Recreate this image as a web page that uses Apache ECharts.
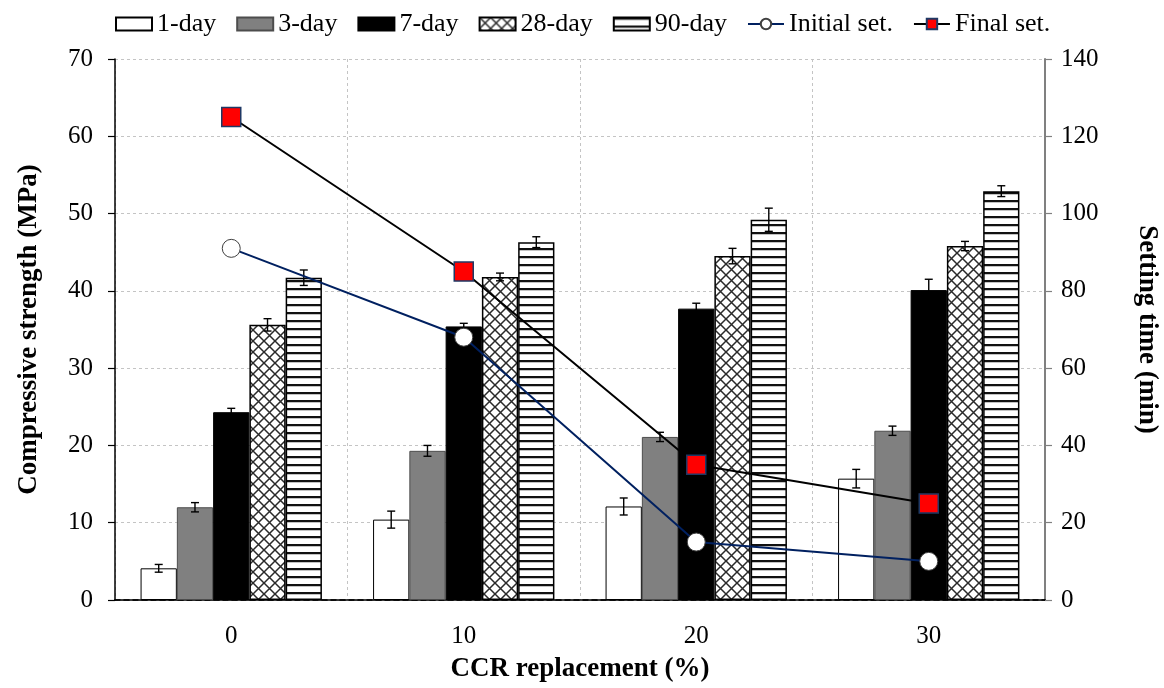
<!DOCTYPE html>
<html>
<head>
<meta charset="utf-8">
<script src="https://cdn.jsdelivr.net/npm/echarts@6/dist/echarts.min.js"></script>
<style>
html,body{margin:0;padding:0;background:#fff;}
#chart{width:1164px;height:688px;}
</style>
</head>
<body>
<div id="chart"></div>
<script>
// ---- data ----
const categories = ['0', '10', '20', '30'];
const seriesNames = ['1-day', '3-day', '7-day', '28-day', '90-day'];
const day1 = [4.1, 10.4, 12.1, 15.7];
const day3 = [12.0, 19.3, 21.1, 21.9];
const day7 = [24.3, 35.4, 37.7, 40.1];
const day28 = [35.6, 41.8, 44.5, 45.8];
const day90 = [41.7, 46.3, 49.2, 52.9];
const err1 = [0.5, 1.1, 1.1, 1.2];
const err3 = [0.6, 0.7, 0.6, 0.6];
const err7 = [0.5, 0.4, 0.7, 1.4];
const err28 = [0.8, 0.5, 1.0, 0.6];
const err90 = [1.0, 0.7, 1.5, 0.7];
const initialSet = [91, 68, 15, 10];
const finalSet = [125, 85, 35, 25];
const leftTicks = {min: 0, max: 70, interval: 10};
const rightTicks = {min: 0, max: 140, interval: 20};

// ---- patterns ----
function crossPattern() {
  const s = 11;
  const c = document.createElement('canvas');
  c.width = s; c.height = s;
  const g = c.getContext('2d');
  g.fillStyle = '#fff'; g.fillRect(0, 0, s, s);
  g.strokeStyle = '#2a2a2a'; g.lineWidth = 1.5;
  g.beginPath();
  g.moveTo(0, 0); g.lineTo(s, s);
  g.moveTo(0, s); g.lineTo(s, 0);
  g.stroke();
  return c;
}
function hLinePattern() {
  const c = document.createElement('canvas');
  c.width = 8; c.height = 8;
  const g = c.getContext('2d');
  g.fillStyle = '#fff'; g.fillRect(0, 0, 8, 8);
  g.fillStyle = '#111'; g.fillRect(0, 0, 8, 2);
  g.fillStyle = '#999'; g.fillRect(0, 2, 8, 0.6);
  return c;
}

const FONT = '"Liberation Serif", "Times New Roman", serif';
const values = [day1, day3, day7, day28, day90];
const errs = [err1, err3, err7, err28, err90];
const CAT_GAP = 0.22;

const barStyles = [
  {color: '#ffffff', borderColor: '#000', borderWidth: 1},
  {color: '#808080', borderColor: '#4d4d4d', borderWidth: 1},
  {color: '#000000', borderColor: '#000', borderWidth: 1},
  {color: {image: crossPattern(), repeat: 'repeat'}, borderColor: '#000', borderWidth: 1.5},
  {color: {image: hLinePattern(), repeat: 'repeat'}, borderColor: '#000', borderWidth: 1.5}
];

const barSeries = seriesNames.map((n, i) => ({
  name: n,
  type: 'bar',
  data: values[i],
  barGap: '0%',
  barCategoryGap: (CAT_GAP * 100) + '%',
  itemStyle: barStyles[i],
  z: 2
}));

const errData = [];
values.forEach((arr, i) => arr.forEach((v, j) => errData.push([j, v, errs[i][j], i])));

const errSeries = {
  type: 'custom',
  name: 'err',
  data: errData,
  encode: {x: 0, y: 1},
  z: 3,
  silent: true,
  renderItem: function (params, api) {
    const idx = api.value(0), v = api.value(1), e = api.value(2), si = api.value(3);
    const band = api.size([1, 0])[0];
    const bw = band * (1 - CAT_GAP) / 5;
    const cx = api.coord([idx, v])[0] + (si - 2) * bw;
    const yT = api.coord([idx, v + e])[1];
    const yB = api.coord([idx, v - e])[1];
    const cap = 4;
    const st = {stroke: '#000', lineWidth: 1.4};
    return {
      type: 'group',
      children: [
        {type: 'line', shape: {x1: cx, y1: yT, x2: cx, y2: yB}, style: st},
        {type: 'line', shape: {x1: cx - cap, y1: yT, x2: cx + cap, y2: yT}, style: st},
        {type: 'line', shape: {x1: cx - cap, y1: yB, x2: cx + cap, y2: yB}, style: st}
      ]
    };
  }
};

const lineSeries = [
  {
    name: 'Initial set.', type: 'line', yAxisIndex: 1, data: initialSet,
    symbol: 'circle', symbolSize: 18,
    lineStyle: {color: '#002060', width: 2},
    itemStyle: {color: '#ffffff', borderColor: '#404040', borderWidth: 1},
    z: 5
  },
  {
    name: 'Final set.', type: 'line', yAxisIndex: 1, data: finalSet,
    symbol: 'rect', symbolSize: 19,
    lineStyle: {color: '#000000', width: 2},
    itemStyle: {color: '#ff0000', borderColor: '#1f3864', borderWidth: 1.5},
    z: 5
  }
];

const legendData = seriesNames.map(n => ({name: n, icon: 'rect'}))
  .concat([{name: 'Initial set.'}, {name: 'Final set.'}]);

const chart = echarts.init(document.getElementById('chart'), null, {renderer: 'canvas'});
chart.setOption({
  backgroundColor: '#ffffff',
  animation: false,
  textStyle: {fontFamily: FONT, color: '#000'},
  legend: {
    data: legendData,
    left: 110, top: 6,
    itemWidth: 36, itemHeight: 13, itemGap: 20,
    selectedMode: false,
    textStyle: {fontFamily: FONT, fontSize: 26, color: '#000'}
  },
  grid: {left: 115, right: 119, top: 59, bottom: 88, containLabel: false, outerBoundsMode: 'none'},
  xAxis: [
    {
      type: 'category', data: categories, position: 'bottom',
      name: 'CCR replacement (%)', nameLocation: 'middle', nameGap: 56,
      nameTextStyle: {fontFamily: FONT, fontSize: 27, fontWeight: 'bold', color: '#000'},
      axisLine: {show: true, lineStyle: {color: '#000', width: 1.5, type: [5, 4]}},
      axisTick: {show: false},
      axisLabel: {fontFamily: FONT, fontSize: 25, color: '#000', margin: 24},
      splitLine: {show: true, lineStyle: {color: '#c4c4c4', type: [3, 3], width: 1}}
    },
    {
      type: 'category', data: categories, position: 'top',
      axisLine: {show: true, lineStyle: {color: '#000', width: 1.5}},
      axisTick: {show: false}, axisLabel: {show: false}, splitLine: {show: false}
    }
  ],
  yAxis: [
    {
      type: 'value', position: 'left',
      min: leftTicks.min, max: leftTicks.max, interval: leftTicks.interval,
      name: 'Compressive strength (MPa)', nameLocation: 'middle', nameGap: 72,
      nameTextStyle: {fontFamily: FONT, fontSize: 27, fontWeight: 'bold', color: '#000'},
      axisLine: {show: true, lineStyle: {color: '#000', width: 1.5}},
      axisTick: {show: true, inside: false, length: 7, lineStyle: {color: '#000', width: 1.2}},
      axisLabel: {fontFamily: FONT, fontSize: 25, color: '#000', margin: 22},
      splitLine: {show: true, lineStyle: {color: '#c4c4c4', type: [3, 3], width: 1}}
    },
    {
      type: 'value', position: 'right',
      min: rightTicks.min, max: rightTicks.max, interval: rightTicks.interval,
      name: 'Setting time (min)', nameLocation: 'middle', nameGap: 88, nameRotate: -90,
      nameTextStyle: {fontFamily: FONT, fontSize: 27, fontWeight: 'bold', color: '#000'},
      axisLine: {show: true, lineStyle: {color: '#808080', width: 2}},
      axisTick: {show: true, inside: false, length: 7, lineStyle: {color: '#808080', width: 1.2}},
      axisLabel: {fontFamily: FONT, fontSize: 25, color: '#000', margin: 16},
      splitLine: {show: false}
    }
  ],
  series: barSeries.concat([errSeries]).concat(lineSeries)
});
</script>
</body>
</html>
